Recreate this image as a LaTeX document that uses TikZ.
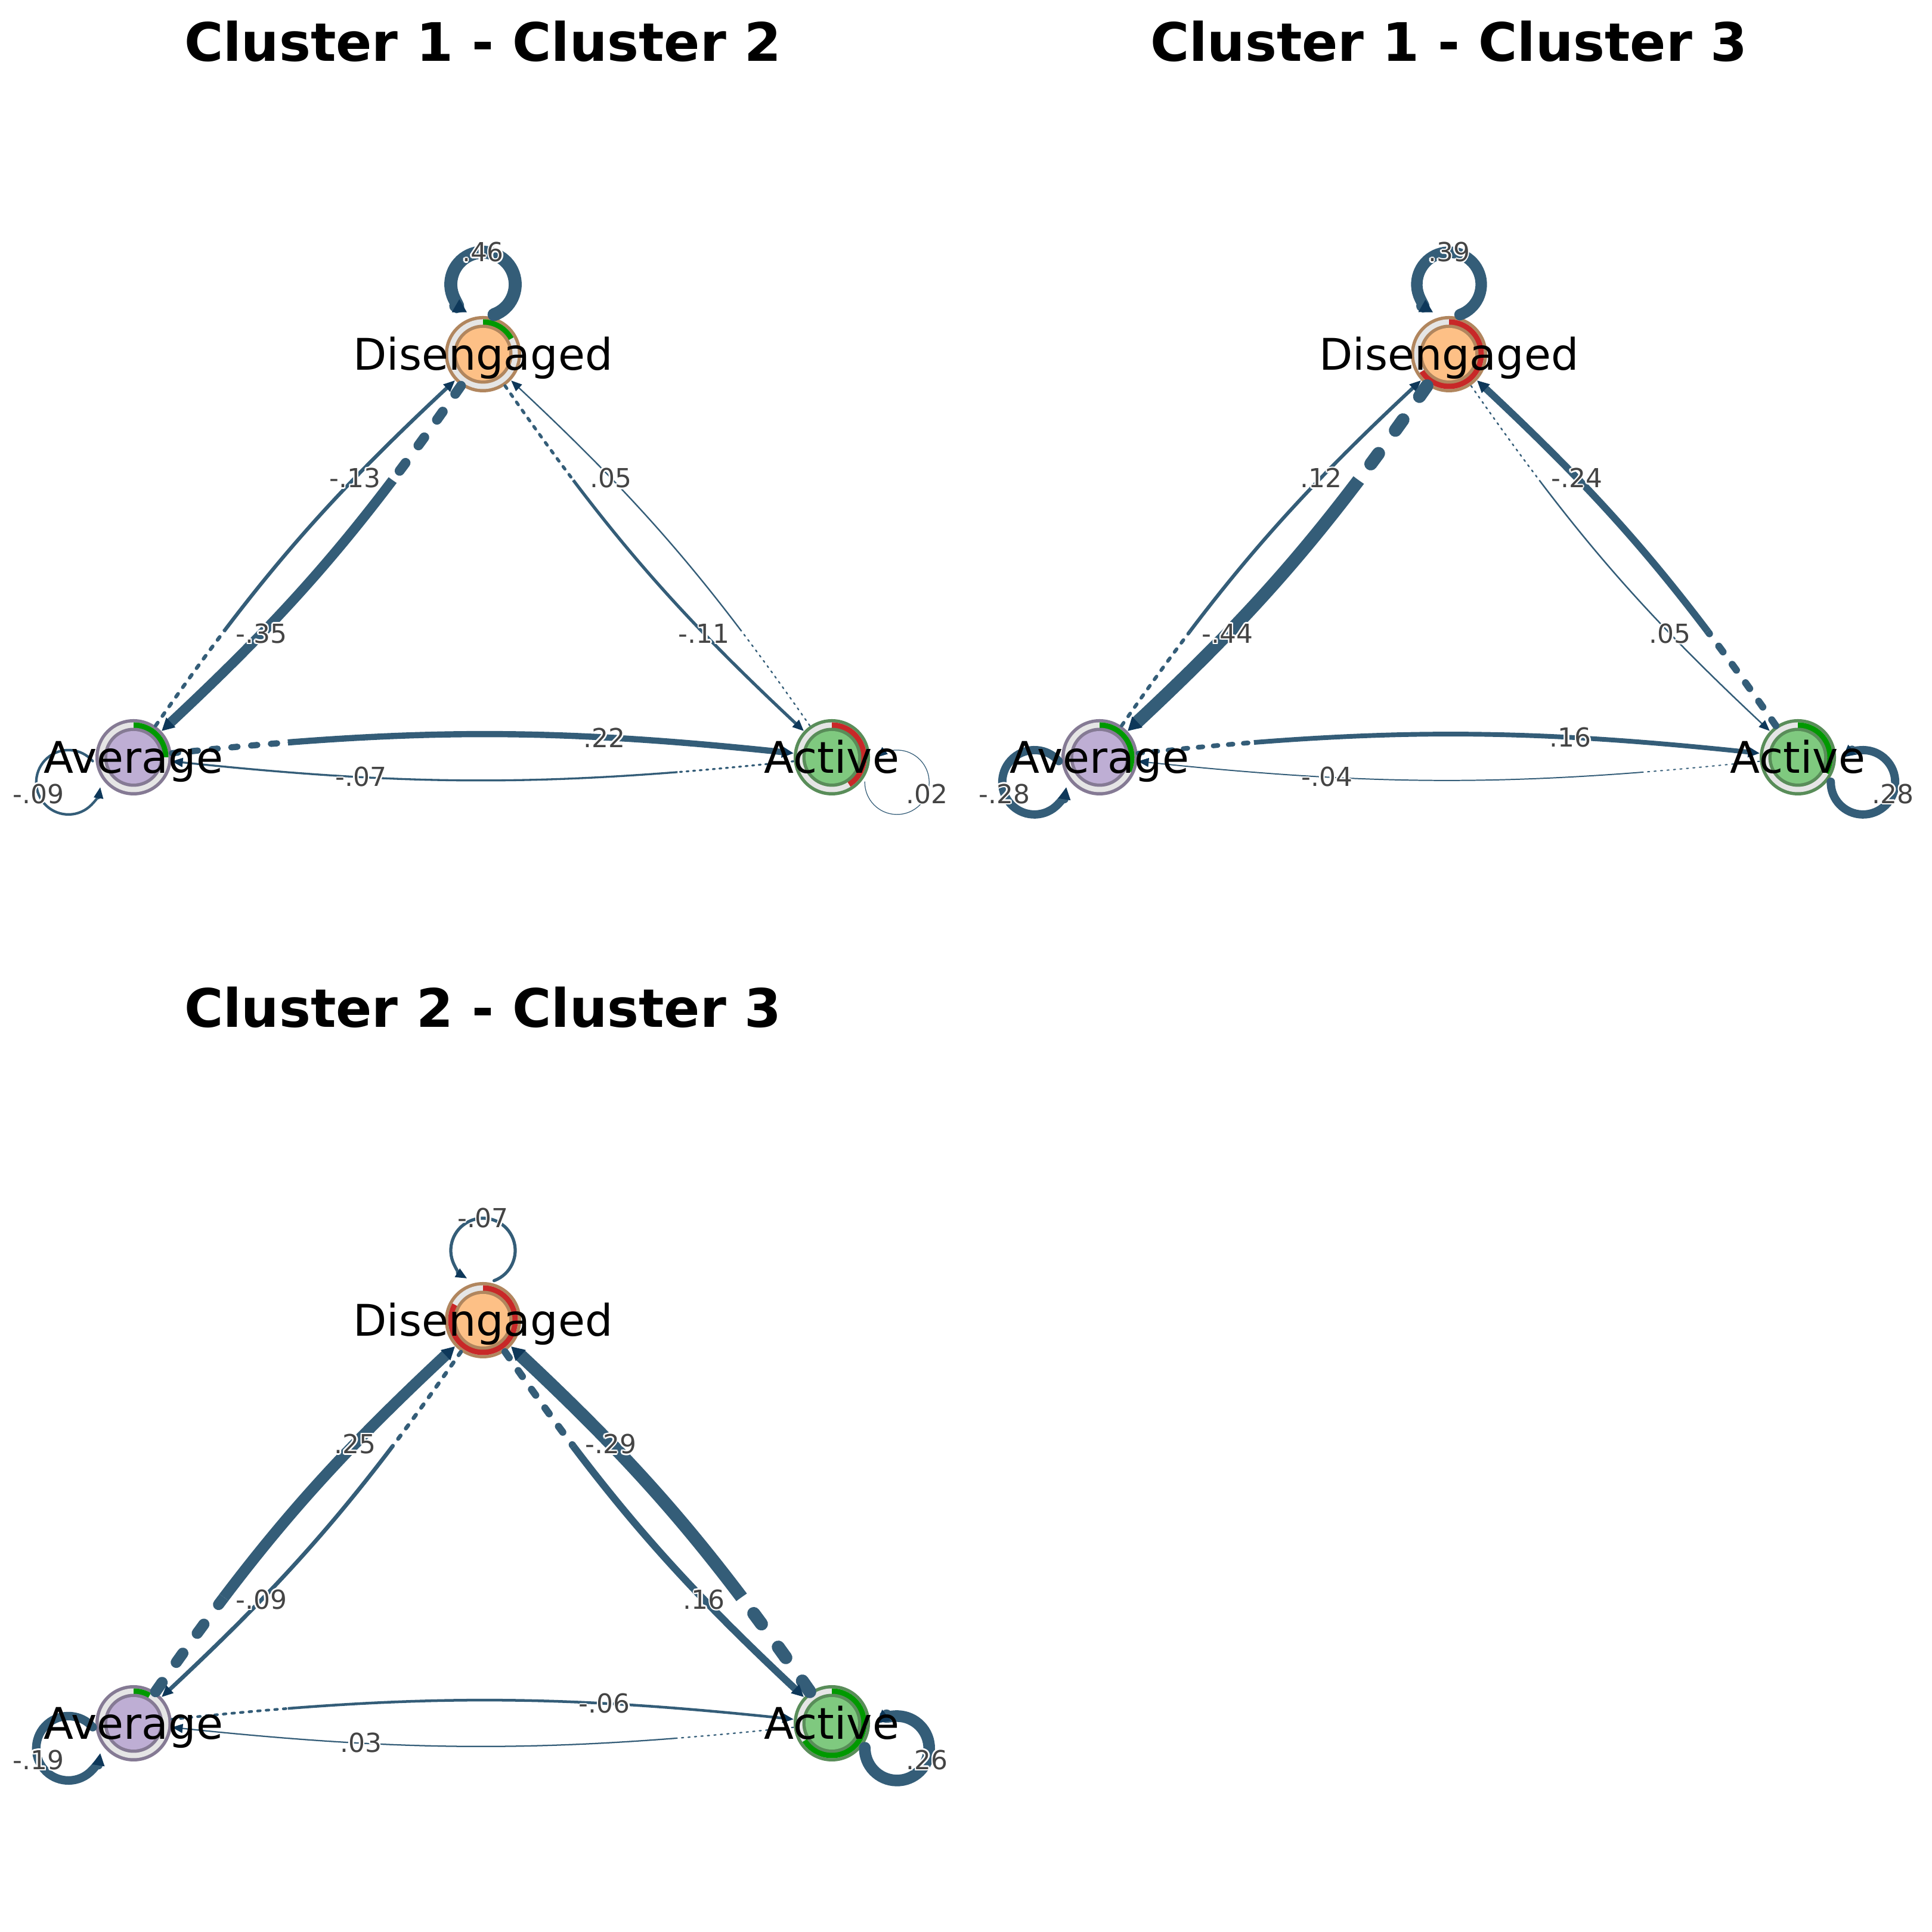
\documentclass[tikz,border=0pt]{standalone}
\usepackage{fontspec}
\setmainfont{DejaVu Sans}
\usetikzlibrary{arrows.meta}

\definecolor{edgecol}{RGB}{52,93,120}
\definecolor{tipcol}{RGB}{14,56,90}
\definecolor{labgray}{RGB}{68,68,68}
\definecolor{ringgray}{RGB}{229,229,229}
\definecolor{upcol}{RGB}{0,153,0}
\definecolor{downcol}{RGB}{200,40,40}
\definecolor{actfill}{HTML}{7FC97F}
\definecolor{avgfill}{HTML}{BEAED4}
\definecolor{disfill}{HTML}{FDC086}
\colorlet{actline}{actfill!70!black}
\colorlet{avgline}{avgfill!70!black}
\colorlet{disline}{disfill!70!black}

\pgfdeclarelayer{labels}
\pgfsetlayers{main,labels}

\tikzset{
  state/.style={circle, inner sep=0pt, minimum size=1.28cm},
  statename/.style={anchor=base, inner sep=0pt, font=\fontsize{20.8}{24}\selectfont},
  paneltitle/.style={anchor=base, inner sep=0pt, font=\fontsize{25.3}{30}\selectfont\bfseries},
  wlabel/.style={inner sep=0pt, font=\fontsize{12.5}{15}\selectfont},
  wtip/.style={-{Triangle[length=5pt 0.2, width=4pt 0.5, color=tipcol, line width=0.3pt]}},
}

% ring round a state: node, fill, border, arc colour, share
\newcommand{\statering}[5]{%
  \fill[#3] (#1.center) circle (0.64);
  \fill[ringgray] (#1.center) circle (0.585);
  \fill[#4] (#1.center) -- ++(90:0.585) arc[start angle=90, end angle={90-360*#5}, radius=0.585] -- cycle;
  \fill[#3] (#1.center) circle (0.495);
  \fill[#2] (#1.center) circle (0.44);
}

% grey number with a white rim
\newcommand{\haloed}[2]{%
  \begin{pgfonlayer}{labels}
    \foreach \a in {0,45,...,315}
      \node[wlabel, text=white] at ([shift={(\a:0.7pt)}]#1) {#2};
    \node[wlabel, text=labgray] at (#1) {#2};
  \end{pgfonlayer}
}

% transition: from, to, bend side, |weight|, label
\newcommand{\tnaedge}[5]{%
  \pgfmathsetmacro\lw{max(0.35,6.2*#4/\wmax)}
  \pgfmathsetmacro\don{max(\lw,0.9)}
  \pgfmathsetmacro\doff{max(2.2*\lw,2.2)}
  \begin{scope}
    \clip (#1.center) circle (2.6);
    \draw[edgecol, line width=\lw pt, line cap=round, dash pattern=on \don pt off \doff pt] (#1) to[bend #3=6] (#2);
  \end{scope}
  \begin{scope}[even odd rule]
    \clip (#1.center) circle (2.6) (#1.center) ++(-20,-20) rectangle ++(40,40);
    \draw[edgecol, line width=\lw pt, line cap=round, wtip] (#1) to[bend #3=6] (#2);
  \end{scope}
  \path (#1) to[bend #3=6] coordinate[pos=0.71] (lab) (#2);
  \haloed{lab}{#5}
}

% self loop: node, direction, |weight|, label
\newcommand{\tnaloop}[4]{%
  \pgfmathsetmacro\lw{max(0.35,6.2*#3/\wmax)}
  \draw[edgecol, line width=\lw pt, line cap=round, wtip] (#1.center) ++(#2:1.17) ++({#2+200}:0.54)
    arc[start angle={#2+200}, end angle={#2+510}, radius=0.54];
  \path (#1.center) ++(#2:1.71) coordinate (lab);
  \haloed{lab}{#4}
}

\begin{document}
\begin{tikzpicture}
\fill[white, use as bounding box] (0,0) rectangle (32.4,32.4);

% Cluster 1 - Cluster 2
\begin{scope}
  \def\wmax{0.46}
  \node[paneltitle] at (8.10,31.37) {Cluster 1 - Cluster 2};
  \node[state] (dis1) at (8.10,26.46) {};
  \node[state] (avg1) at (2.24,19.70) {};
  \node[state] (act1) at (13.95,19.70) {};
  \statering{dis1}{disfill}{disline}{upcol}{0.17}
  \statering{avg1}{avgfill}{avgline}{upcol}{0.25}
  \statering{act1}{actfill}{actline}{downcol}{0.41}
  \tnaloop{dis1}{90}{0.46}{.46}
  \tnaloop{avg1}{201}{0.09}{-.09}
  \tnaloop{act1}{339}{0.02}{.02}
  \tnaedge{avg1}{dis1}{left}{0.13}{-.13}
  \tnaedge{dis1}{avg1}{left}{0.35}{-.35}
  \tnaedge{act1}{dis1}{right}{0.05}{.05}
  \tnaedge{dis1}{act1}{right}{0.11}{-.11}
  \tnaedge{avg1}{act1}{left}{0.22}{.22}
  \tnaedge{act1}{avg1}{left}{0.07}{-.07}
  \node[statename] at ([yshift=-0.266cm]dis1.center) {Disengaged};
  \node[statename] at ([yshift=-0.266cm]avg1.center) {Average};
  \node[statename] at ([yshift=-0.266cm]act1.center) {Active};
\end{scope}

% Cluster 1 - Cluster 3
\begin{scope}[shift={(16.2,0)}]
  \def\wmax{0.44}
  \node[paneltitle] at (8.10,31.37) {Cluster 1 - Cluster 3};
  \node[state] (dis2) at (8.10,26.46) {};
  \node[state] (avg2) at (2.24,19.70) {};
  \node[state] (act2) at (13.95,19.70) {};
  \statering{dis2}{disfill}{disline}{downcol}{0.66}
  \statering{avg2}{avgfill}{avgline}{upcol}{0.32}
  \statering{act2}{actfill}{actline}{upcol}{0.33}
  \tnaloop{dis2}{90}{0.39}{.39}
  \tnaloop{avg2}{201}{0.28}{-.28}
  \tnaloop{act2}{339}{0.28}{.28}
  \tnaedge{avg2}{dis2}{left}{0.12}{.12}
  \tnaedge{dis2}{avg2}{left}{0.44}{-.44}
  \tnaedge{act2}{dis2}{right}{0.24}{-.24}
  \tnaedge{dis2}{act2}{right}{0.05}{.05}
  \tnaedge{avg2}{act2}{left}{0.16}{.16}
  \tnaedge{act2}{avg2}{left}{0.04}{-.04}
  \node[statename] at ([yshift=-0.266cm]dis2.center) {Disengaged};
  \node[statename] at ([yshift=-0.266cm]avg2.center) {Average};
  \node[statename] at ([yshift=-0.266cm]act2.center) {Active};
\end{scope}

% Cluster 2 - Cluster 3
\begin{scope}[shift={(0,-16.2)}]
  \def\wmax{0.29}
  \node[paneltitle] at (8.10,31.37) {Cluster 2 - Cluster 3};
  \node[state] (dis3) at (8.10,26.46) {};
  \node[state] (avg3) at (2.24,19.70) {};
  \node[state] (act3) at (13.95,19.70) {};
  \statering{dis3}{disfill}{disline}{downcol}{0.83}
  \statering{avg3}{avgfill}{avgline}{upcol}{0.083}
  \statering{act3}{actfill}{actline}{upcol}{0.66}
  \tnaloop{dis3}{90}{0.07}{-.07}
  \tnaloop{avg3}{201}{0.19}{-.19}
  \tnaloop{act3}{339}{0.26}{.26}
  \tnaedge{avg3}{dis3}{left}{0.25}{.25}
  \tnaedge{dis3}{avg3}{left}{0.09}{-.09}
  \tnaedge{act3}{dis3}{right}{0.29}{-.29}
  \tnaedge{dis3}{act3}{right}{0.16}{.16}
  \tnaedge{avg3}{act3}{left}{0.06}{-.06}
  \tnaedge{act3}{avg3}{left}{0.03}{.03}
  \node[statename] at ([yshift=-0.266cm]dis3.center) {Disengaged};
  \node[statename] at ([yshift=-0.266cm]avg3.center) {Average};
  \node[statename] at ([yshift=-0.266cm]act3.center) {Active};
\end{scope}
\end{tikzpicture}
\end{document}
